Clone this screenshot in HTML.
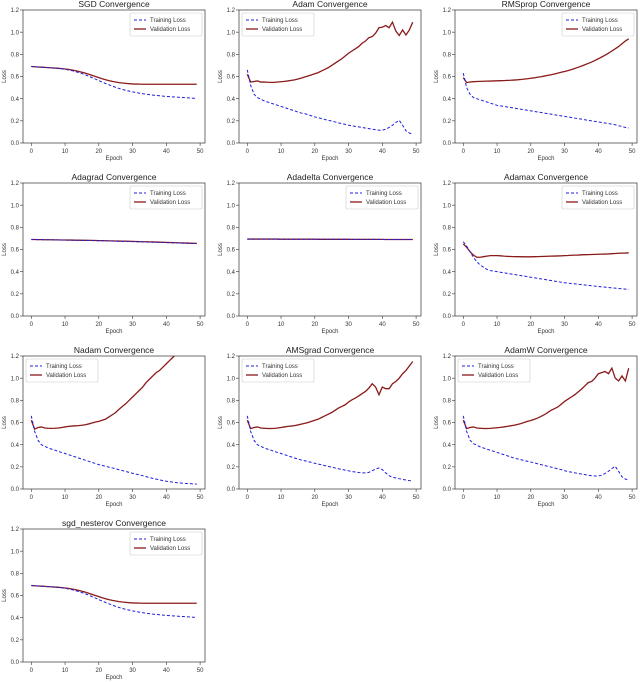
<!DOCTYPE html>
<html><head><meta charset="utf-8">
<style>
body{margin:0;background:#fff;}
svg{display:block;font-family:"Liberation Sans","DejaVu Sans",sans-serif;}
</style></head>
<body>
<svg id="fig" width="640" height="682" viewBox="0 0 640 682"></svg>
<script>
const titles=["SGD Convergence","Adam Convergence","RMSprop Convergence","Adagrad Convergence","Adadelta Convergence","Adamax Convergence","Nadam Convergence","AMSgrad Convergence","AdamW Convergence","sgd_nesterov Convergence"];
const legendLeft=[false,true,false,false,false,false,true,true,true,false];
const yTicks=[0,0.2,0.4,0.6,0.8,1.0,1.2];
const yTickLabels=["0.0","0.2","0.4","0.6","0.8","1.0","1.2"];
const xTicks=[0,10,20,30,40,50];
const sgdTrain=[0.69,0.688,0.686,0.684,0.682,0.68,0.678,0.676,0.673,0.67,0.665,0.66,0.653,0.645,0.636,0.626,0.615,0.603,0.59,0.577,0.563,0.55,0.537,0.525,0.513,0.502,0.492,0.483,0.475,0.468,0.461,0.455,0.45,0.445,0.44,0.436,0.432,0.429,0.426,0.423,0.42,0.418,0.416,0.414,0.412,0.41,0.408,0.406,0.404,0.402];
const sgdVal=[0.69,0.688,0.686,0.684,0.682,0.68,0.678,0.676,0.674,0.671,0.668,0.664,0.659,0.653,0.646,0.638,0.63,0.62,0.61,0.6,0.59,0.58,0.571,0.563,0.556,0.55,0.545,0.541,0.538,0.535,0.533,0.532,0.531,0.53,0.53,0.53,0.53,0.53,0.53,0.53,0.53,0.53,0.53,0.53,0.53,0.53,0.53,0.53,0.53,0.53];
const adamTrain=[0.66,0.52,0.44,0.41,0.395,0.38,0.37,0.36,0.35,0.34,0.33,0.32,0.31,0.3,0.29,0.28,0.27,0.265,0.255,0.245,0.235,0.228,0.22,0.212,0.205,0.198,0.19,0.182,0.175,0.168,0.16,0.155,0.15,0.145,0.14,0.135,0.13,0.125,0.12,0.115,0.115,0.125,0.14,0.16,0.185,0.205,0.16,0.11,0.09,0.08];
const adamVal=[0.62,0.55,0.555,0.56,0.55,0.55,0.548,0.547,0.547,0.55,0.553,0.556,0.56,0.565,0.57,0.577,0.585,0.595,0.605,0.615,0.625,0.635,0.65,0.665,0.68,0.7,0.72,0.74,0.76,0.785,0.81,0.83,0.85,0.87,0.9,0.92,0.95,0.96,0.99,1.04,1.045,1.06,1.04,1.09,1.01,0.97,1.02,0.975,1.02,1.09];
const rmsTrain=[0.63,0.5,0.44,0.41,0.4,0.39,0.38,0.37,0.36,0.35,0.34,0.335,0.33,0.325,0.32,0.315,0.31,0.305,0.3,0.295,0.29,0.285,0.28,0.275,0.27,0.265,0.26,0.255,0.25,0.245,0.24,0.235,0.23,0.225,0.22,0.215,0.21,0.205,0.2,0.195,0.19,0.185,0.18,0.175,0.17,0.165,0.155,0.15,0.14,0.135];
const rmsVal=[0.59,0.545,0.55,0.553,0.555,0.556,0.557,0.558,0.559,0.56,0.561,0.562,0.563,0.565,0.566,0.568,0.57,0.573,0.576,0.58,0.584,0.588,0.593,0.598,0.604,0.61,0.616,0.623,0.63,0.638,0.645,0.653,0.662,0.672,0.683,0.694,0.706,0.718,0.73,0.745,0.76,0.776,0.792,0.81,0.83,0.85,0.87,0.895,0.92,0.94];
const adagradTrain=[0.69,0.69,0.689,0.689,0.688,0.688,0.687,0.687,0.686,0.686,0.685,0.685,0.684,0.684,0.683,0.683,0.682,0.682,0.681,0.68,0.679,0.679,0.678,0.677,0.676,0.675,0.675,0.674,0.673,0.672,0.671,0.67,0.669,0.668,0.667,0.667,0.666,0.665,0.664,0.663,0.662,0.661,0.66,0.659,0.658,0.657,0.656,0.655,0.654,0.653];
const adagradVal=[0.69,0.69,0.689,0.689,0.688,0.688,0.688,0.687,0.687,0.686,0.686,0.685,0.685,0.684,0.684,0.683,0.683,0.682,0.682,0.681,0.68,0.68,0.679,0.678,0.678,0.677,0.676,0.675,0.675,0.674,0.673,0.672,0.671,0.67,0.67,0.669,0.668,0.667,0.666,0.665,0.664,0.663,0.662,0.661,0.66,0.659,0.658,0.657,0.656,0.655];
const adadeltaTrain=[0.694,0.694,0.694,0.694,0.694,0.694,0.694,0.694,0.694,0.693,0.693,0.693,0.693,0.693,0.693,0.693,0.693,0.693,0.693,0.693,0.692,0.692,0.692,0.692,0.692,0.692,0.692,0.692,0.692,0.692,0.691,0.691,0.691,0.691,0.691,0.691,0.691,0.691,0.691,0.691,0.69,0.69,0.69,0.69,0.69,0.69,0.69,0.69,0.69,0.69];
const adadeltaVal=[0.694,0.694,0.694,0.694,0.694,0.694,0.694,0.694,0.694,0.694,0.693,0.693,0.693,0.693,0.693,0.693,0.693,0.693,0.693,0.693,0.693,0.692,0.692,0.692,0.692,0.692,0.692,0.692,0.692,0.692,0.692,0.691,0.691,0.691,0.691,0.691,0.691,0.691,0.691,0.691,0.691,0.69,0.69,0.69,0.69,0.69,0.69,0.69,0.69,0.69];
const adamaxTrain=[0.67,0.63,0.58,0.53,0.49,0.46,0.44,0.42,0.41,0.405,0.4,0.395,0.39,0.385,0.38,0.375,0.37,0.365,0.36,0.355,0.35,0.345,0.34,0.335,0.33,0.325,0.32,0.315,0.31,0.305,0.3,0.297,0.293,0.29,0.287,0.283,0.28,0.277,0.273,0.27,0.267,0.263,0.26,0.257,0.254,0.251,0.248,0.245,0.243,0.24];
const adamaxVal=[0.65,0.62,0.58,0.55,0.53,0.53,0.535,0.54,0.545,0.545,0.545,0.543,0.54,0.538,0.537,0.536,0.535,0.535,0.534,0.534,0.534,0.535,0.536,0.537,0.538,0.539,0.54,0.541,0.542,0.543,0.545,0.546,0.548,0.549,0.55,0.552,0.553,0.554,0.555,0.556,0.557,0.558,0.559,0.56,0.562,0.564,0.566,0.567,0.568,0.57];
const nadamTrain=[0.66,0.52,0.44,0.4,0.385,0.37,0.36,0.35,0.34,0.33,0.32,0.31,0.3,0.29,0.28,0.27,0.26,0.25,0.24,0.23,0.22,0.213,0.205,0.197,0.19,0.182,0.174,0.166,0.158,0.15,0.142,0.134,0.127,0.12,0.112,0.104,0.096,0.089,0.082,0.076,0.07,0.066,0.062,0.058,0.055,0.052,0.05,0.048,0.046,0.044];
const nadamVal=[0.62,0.54,0.555,0.56,0.55,0.548,0.547,0.548,0.55,0.555,0.56,0.565,0.568,0.57,0.572,0.575,0.58,0.587,0.595,0.605,0.61,0.62,0.63,0.65,0.67,0.69,0.72,0.745,0.77,0.8,0.83,0.86,0.89,0.92,0.96,0.99,1.02,1.05,1.07,1.1,1.13,1.16,1.19,1.22,1.25,1.28,1.31,1.34,1.37,1.4];
const amsTrain=[0.66,0.52,0.44,0.4,0.385,0.37,0.36,0.35,0.34,0.33,0.32,0.31,0.3,0.29,0.28,0.27,0.262,0.255,0.247,0.24,0.232,0.225,0.218,0.211,0.204,0.197,0.19,0.183,0.176,0.17,0.164,0.158,0.153,0.149,0.146,0.145,0.15,0.165,0.18,0.19,0.175,0.145,0.12,0.105,0.1,0.093,0.087,0.081,0.076,0.072];
const amsVal=[0.62,0.545,0.555,0.56,0.55,0.548,0.546,0.546,0.547,0.55,0.555,0.56,0.565,0.568,0.572,0.578,0.585,0.592,0.6,0.61,0.62,0.63,0.645,0.66,0.675,0.69,0.71,0.73,0.745,0.76,0.785,0.805,0.82,0.84,0.86,0.88,0.91,0.95,0.92,0.85,0.92,0.905,0.905,0.95,0.97,1.0,1.04,1.07,1.11,1.15];
const adamwTrain=[0.66,0.52,0.44,0.41,0.395,0.38,0.37,0.36,0.35,0.34,0.33,0.32,0.31,0.3,0.29,0.28,0.272,0.265,0.257,0.25,0.243,0.235,0.228,0.22,0.212,0.205,0.198,0.19,0.182,0.175,0.165,0.158,0.152,0.146,0.14,0.135,0.13,0.125,0.12,0.117,0.117,0.125,0.14,0.16,0.185,0.205,0.16,0.11,0.09,0.08];
const adamwVal=[0.62,0.545,0.555,0.56,0.55,0.548,0.546,0.546,0.547,0.55,0.553,0.556,0.56,0.565,0.57,0.575,0.582,0.59,0.6,0.61,0.618,0.628,0.64,0.655,0.67,0.69,0.71,0.725,0.74,0.765,0.79,0.81,0.83,0.85,0.875,0.9,0.93,0.96,0.97,1.0,1.04,1.05,1.06,1.04,1.09,1.0,0.975,1.02,0.975,1.09];
const trainSeries=[sgdTrain,adamTrain,rmsTrain,adagradTrain,adadeltaTrain,adamaxTrain,nadamTrain,amsTrain,adamwTrain,sgdTrain];
const valSeries=[sgdVal,adamVal,rmsVal,adagradVal,adadeltaVal,adamaxVal,nadamVal,amsVal,adamwVal,sgdVal];

const NS="http://www.w3.org/2000/svg";
const svg=document.getElementById('fig');
const colLeft=[23,239,455], rowTop=[10,183,356,529], PW=182, PH=133;
function mk(tag,attrs,parent){const e=document.createElementNS(NS,tag);for(const k in attrs)e.setAttribute(k,attrs[k]);parent.appendChild(e);return e;}
titles.forEach((t,i)=>{
  const L=colLeft[i%3],T=rowTop[Math.floor(i/3)];
  const xS=v=>L+(v+2.45)/53.9*PW;
  const yS=v=>T+PH-(v/1.2)*PH;
  const g=mk('g',{},svg);
  
  
  const cp=mk('clipPath',{id:'c'+i},g);mk('rect',{x:L,y:T,width:PW,height:PH},cp);
  const ttl=mk('text',{x:L+PW/2,y:T-3,'text-anchor':'middle','font-size':8.5,fill:'#222'},g);ttl.textContent=t;
  
  
  yTicks.forEach((v,k)=>{const y=yS(v);mk('line',{x1:L-3,x2:L,y1:y,y2:y,stroke:'#333','stroke-width':0.6},g);
    const tx=mk('text',{x:L-4,y:y+2.2,'text-anchor':'end','font-size':6,fill:'#333'},g);tx.textContent=yTickLabels[k];
    
    });
  xTicks.forEach(v=>{const x=xS(v);mk('line',{x1:x,x2:x,y1:T+PH,y2:T+PH+3,stroke:'#333','stroke-width':0.6},g);
    const tx=mk('text',{x:x,y:T+PH+10,'text-anchor':'middle','font-size':6,fill:'#333'},g);tx.textContent=v;
    
    });
  const xl=mk('text',{x:L+PW/2,y:T+PH+17,'text-anchor':'middle','font-size':6,fill:'#333'},g);xl.textContent='Epoch';
  
  
  const yl=mk('text',{x:0,y:0,'text-anchor':'middle','font-size':6,fill:'#333',transform:`translate(${L-17},${T+PH/2}) rotate(-90)`},g);yl.textContent='Loss';
  
  
  const pts=a=>a.map((v,k)=>xS(k).toFixed(2)+','+yS(v).toFixed(2)).join(' ');
  const vl=mk('polyline',{points:pts(valSeries[i]),fill:'none',stroke:'#8b1a1a','stroke-width':1.3,'clip-path':`url(#c${i})`},g);
  
  
  const tl=mk('polyline',{points:pts(trainSeries[i]),fill:'none',stroke:'#1f1fdd','stroke-width':1,'stroke-dasharray':'3,2','clip-path':`url(#c${i})`},g);
  
  
  mk('rect',{x:L,y:T,width:PW,height:PH,fill:'none',stroke:'#333','stroke-width':0.7},g);
  const lw=72,lh=23,lx=legendLeft[i]?L+3:L+PW-lw-3,ly=T+3;
  const lg=mk('g',{},g);
  
  
  mk('rect',{x:lx,y:ly,width:lw,height:lh,fill:'#fff',stroke:'#ccc','stroke-width':0.6,rx:1.5},lg);
  mk('line',{x1:lx+4,x2:lx+16,y1:ly+7,y2:ly+7,stroke:'#1f1fdd','stroke-width':1,'stroke-dasharray':'3,2'},lg);
  mk('line',{x1:lx+4,x2:lx+16,y1:ly+16,y2:ly+16,stroke:'#8b1a1a','stroke-width':1.3},lg);
  const a=mk('text',{x:lx+20,y:ly+9.2,'font-size':6,fill:'#333'},lg);a.textContent='Training Loss';
  
  
  const b=mk('text',{x:lx+20,y:ly+18.2,'font-size':6,fill:'#333'},lg);b.textContent='Validation Loss';
  
  
});
</script>
</body></html>
